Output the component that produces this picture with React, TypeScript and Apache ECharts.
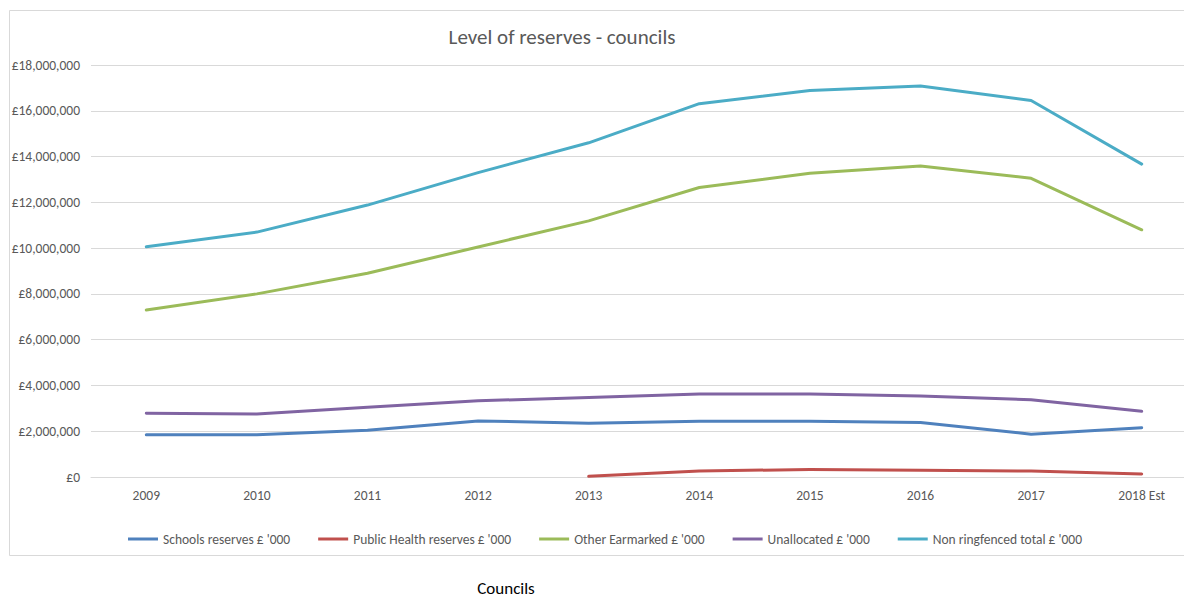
import React, { useEffect, useRef } from "react";
import * as echarts from "echarts";

const categories = ["2009", "2010", "2011", "2012", "2013", "2014", "2015", "2016", "2017", "2018 Est"];
const seriesNames = [
  "Schools reserves £ '000",
  "Public Health reserves £ '000",
  "Other Earmarked £ '000",
  "Unallocated £ '000",
  "Non ringfenced total £ '000",
];
const schools = [1850000, 1850000, 2040000, 2450000, 2350000, 2440000, 2440000, 2380000, 1870000, 2150000];
const publicHealth = [null, null, null, null, 30000, 260000, 330000, 300000, 260000, 130000];
const otherEarmarked = [7300000, 8000000, 8900000, 10050000, 11190000, 12650000, 13270000, 13590000, 13050000, 10800000];
const unallocated = [2790000, 2750000, 3050000, 3330000, 3470000, 3630000, 3630000, 3540000, 3380000, 2870000];
const nonRingfenced = [10060000, 10700000, 11880000, 13300000, 14600000, 16310000, 16890000, 17080000, 16450000, 13670000];
const colors = ["#4F81BD", "#C0504D", "#9BBB59", "#8064A2", "#4BACC6"];
const titleText = "Level of reserves - councils";
const axisTitle = "Councils";

const FONT = "Carlito, Calibri, 'Liberation Sans', Arial, sans-serif";

export default function App() {
  const ref = useRef<HTMLDivElement>(null);
  useEffect(() => {
    if (!ref.current) return;
    const chart = echarts.init(ref.current, undefined, { renderer: "svg" });
    const allData = [schools, publicHealth, otherEarmarked, unallocated, nonRingfenced];
    chart.setOption({
      animation: false,
      textStyle: { fontFamily: FONT },
      grid: { left: 91, right: 43, top: 65, bottom: 121, containLabel: false },
      legend: {
        left: 123,
        top: 527,
        icon: "rect",
        itemWidth: 30,
        itemHeight: 3,
        itemGap: 28,
        textStyle: { color: "#595959", fontSize: 13.5, fontFamily: FONT },
        data: seriesNames,
      },
      xAxis: {
        type: "category",
        data: categories,
        boundaryGap: true,
        axisLine: { show: true, lineStyle: { color: "#d9d9d9", width: 1 } },
        axisTick: { show: false },
        axisLabel: { color: "#595959", fontSize: 13.5, margin: 11, fontFamily: FONT },
      },
      yAxis: {
        type: "value",
        min: 0,
        max: 18000000,
        interval: 2000000,
        axisLine: { show: false },
        axisTick: { show: false },
        splitLine: { lineStyle: { color: "#d9d9d9", width: 1 } },
        axisLabel: {
          color: "#595959",
          fontSize: 13.5,
          margin: 11,
          fontFamily: FONT,
          formatter: (v: number) => "£" + v.toLocaleString("en-GB"),
        },
      },
      graphic: [
        {
          type: "rect",
          shape: { x: 9.5, y: 10.5, width: 1300, height: 545 },
          style: { fill: "none", stroke: "#d9d9d9", lineWidth: 1 },
          silent: true,
        },
        {
          type: "text",
          x: 562,
          y: 37,
          style: {
            text: titleText,
            align: "center",
            verticalAlign: "middle",
            fontSize: 21,
            fill: "#595959",
            fontFamily: FONT,
          },
        },
        {
          type: "text",
          x: 506,
          y: 588,
          style: {
            text: axisTitle,
            align: "center",
            verticalAlign: "middle",
            fontSize: 17,
            fill: "#000000",
            fontFamily: FONT,
          },
        },
      ],
      series: seriesNames.map((name, i) => ({
        name,
        type: "line",
        data: allData[i],
        symbol: "none",
        connectNulls: false,
        color: colors[i],
        lineStyle: { color: colors[i], width: 3, cap: "round", join: "round" },
        itemStyle: { color: colors[i] },
      })),
    });
    return () => chart.dispose();
  }, []);
  return (
    <div style={{ position: "absolute", left: 0, top: 0, width: 1184, height: 598, overflow: "hidden", background: "#fff" }}>
      <div ref={ref} style={{ width: 1240, height: 598 }} />
    </div>
  );
}
